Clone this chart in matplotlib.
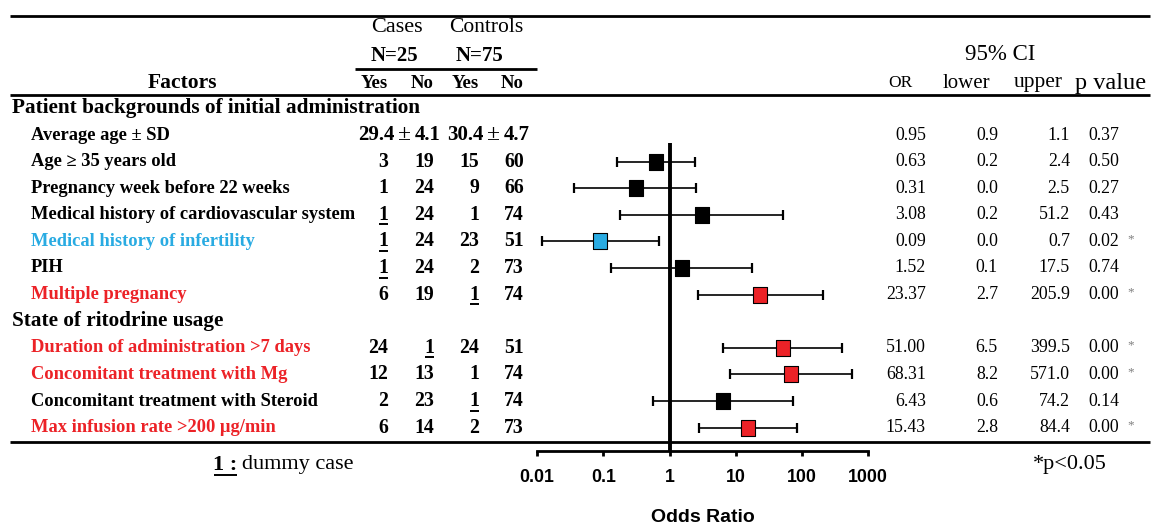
import numpy as np
import matplotlib
matplotlib.use("Agg")
import matplotlib.pyplot as plt

# ---------------- data ----------------
factors = ["Average age \u00b1 SD", "Age \u2265 35 years old", "Pregnancy week before 22 weeks",
           "Medical history of cardiovascular system", "Medical history of infertility", "PIH",
           "Multiple pregnancy", "Duration of administration >7 days",
           "Concomitant treatment with Mg", "Concomitant treatment with Steroid",
           "Max infusion rate >200 \u03bcg/min"]
group_of = [0, 0, 0, 0, 0, 0, 0, 1, 1, 1, 1]
groups = ["Patient backgrounds of initial administration", "State of ritodrine usage"]
label_color = ["black", "black", "black", "black", "blue", "black", "red", "red", "red", "black", "red"]

# average age (mean, SD) for cases and controls
age_cases = ("29.4", "4.1")
age_ctrls = ("30.4", "4.7")
cases_yes = [None, 3, 1, 1, 1, 1, 6, 24, 12, 2, 6]
cases_no = [None, 19, 24, 24, 24, 24, 19, 1, 13, 23, 14]
ctrl_yes = [None, 15, 9, 1, 23, 2, 1, 24, 1, 1, 2]
ctrl_no = [None, 60, 66, 74, 51, 73, 74, 51, 74, 74, 73]
# dummy-case cells (underlined): (row, column index 0..3)
dummy_cells = [(3, 0), (4, 0), (5, 0), (6, 2), (7, 1), (9, 2)]

odds_ratio = [0.95, 0.63, 0.31, 3.08, 0.09, 1.52, 23.37, 51.00, 68.31, 6.43, 15.43]
ci_lower = [0.9, 0.2, 0.0, 0.2, 0.0, 0.1, 2.7, 6.5, 8.2, 0.6, 2.8]
ci_upper = [1.1, 2.4, 2.5, 51.2, 0.7, 17.5, 205.9, 399.5, 571.0, 74.2, 84.4]
p_value = [0.37, 0.50, 0.27, 0.43, 0.02, 0.74, 0.00, 0.00, 0.00, 0.14, 0.00]
# whisker ends as drawn in the plot (unrounded); row 0 not plotted
whisk_lo = [np.nan, 0.16, 0.036, 0.18, 0.012, 0.13, 2.65, 6.4, 8.1, 0.56, 2.8]
whisk_hi = [np.nan, 2.4, 2.5, 51.2, 0.7, 17.5, 205.9, 399.5, 571.0, 74.2, 84.4]
plotted = [False, True, True, True, True, True, True, True, True, True, True]

xticks = [0.01, 0.1, 1, 10, 100, 1000]
xticklabels = ["0.01", "0.1", "1", "10", "100", "1000"]

# ---------------- style ----------------
COL = {"black": "black", "red": "#EC2227", "blue": "#29ABE2"}
SERIF = ["Liberation Serif", "DejaVu Serif"]
SANS = ["Liberation Sans", "DejaVu Sans"]
W, H = 1152, 525

fig = plt.figure(figsize=(W / 100, H / 100), dpi=100)
ax0 = fig.add_axes([0, 0, 1, 1])
ax0.set_xlim(0, W)
ax0.set_ylim(H, 0)
ax0.axis("off")
ax0.patch.set_alpha(0)

# row positions (pixels from top)
y0, dy = 135.0, 26.6
row_y = []
group_y = []
k = 0
prev_g = None
for i, g in enumerate(group_of):
    if g != prev_g:
        if i == 0:
            group_y.append(y0 - dy)
        else:
            group_y.append(y0 + k * dy)
            k += 1
        prev_g = g
    row_y.append(y0 + k * dy)
    k += 1

def t(x, y, s, size, bold=False, ha="left", color="black", family=SERIF, **kw):
    return ax0.text(x, y, s, fontsize=size, fontweight="bold" if bold else "normal",
                    ha=ha, va="center", color=color, family=family, **kw)

# horizontal rules
for yy in (15.5, 95, 441.5):
    ax0.plot([10, 1150], [yy, yy], color="black", lw=2.0, solid_capstyle="butt")
ax0.plot([355, 537], [69, 69], color="black", lw=2.0, solid_capstyle="butt")

# headers
t(397, 27, "Cases", 16, ha="center")
t(486, 27, "Controls", 15.5, ha="center")
t(394, 56, "N=25", 15, bold=True, ha="center")
t(480, 56, "N=75", 15, bold=True, ha="center")
t(182, 83, "Factors", 15.5, bold=True, ha="center")
col_right = [388, 434, 479, 524]
for xr, s in zip(col_right, ["Yes", "No", "Yes", "No"]):
    t(xr, 83, s, 13.5, bold=True, ha="right")
t(1000, 55, "95% CI", 16.5, ha="center")
t(900, 83, "OR", 12.5, ha="center")
t(966, 83, "lower", 15, ha="center")
t(1038, 83, "upper", 15.5, ha="center")
t(1111, 83, "p value", 17.5, ha="center")

# group headings
for gy, gname in zip(group_y, groups):
    t(12, gy, gname, 15.3, bold=True)

# rows
underline_targets = []
for i, name in enumerate(factors):
    y = row_y[i]
    t(31, y, name, 13.3, bold=True, color=COL[label_color[i]])
    if i == 0:
        for (m, sd), xpm in zip((age_cases, age_ctrls), (404.5, 493.5)):
            t(xpm - 10, y, m, 15, bold=True, ha="right")
            t(xpm, y, "\u00b1", 17, ha="center")
            t(xpm + 10, y, sd, 15, bold=True, ha="left")
    else:
        vals = [cases_yes[i], cases_no[i], ctrl_yes[i], ctrl_no[i]]
        for j, (xr, v) in enumerate(zip(col_right, vals)):
            tx = t(xr, y, str(v), 14.2, bold=True, ha="right")
            if (i, j) in dummy_cells:
                underline_targets.append((tx, y))
    t(926, y, f"{odds_ratio[i]:.2f}", 12.8, ha="right")
    t(998, y, f"{ci_lower[i]:.1f}", 12.8, ha="right")
    t(1070, y, f"{ci_upper[i]:.1f}", 12.8, ha="right")
    t(1088, y, f"{p_value[i]:.2f}", 12.8, ha="left")
    if p_value[i] < 0.05:
        t(1127, y - 2, "*", 9.5, color="#7f7f7f")

# footnotes
fn1 = t(213, 465, "1 :", 16, bold=True)
t(242, 465, "dummy case", 16)
t(1033, 465, "*p<0.05", 16)
underline_targets.append((fn1, 465))

fig.canvas.draw()
rend = fig.canvas.get_renderer()
inv = ax0.transData.inverted()
for tx, y in underline_targets:
    bb = tx.get_window_extent(rend)
    (xa, _), (xb, _) = inv.transform([(bb.x0, bb.y0), (bb.x1, bb.y0)])
    size_px = tx.get_fontsize() / 72 * 100
    yl = y + 0.33 * size_px + 3
    ax0.plot([xa + 0.5, xb - 0.5], [yl, yl], color="black", lw=1.4, solid_capstyle="butt")

# ---------------- forest plot ----------------
x_left, x_right = 537.0, 868.3
y_top, y_axis = 143.0, 451.0
ax = fig.add_axes([x_left / W, 1 - y_axis / H, (x_right - x_left) / W, (y_axis - y_top) / H])
ax.patch.set_alpha(0)
ax.set_xscale("log")
ax.set_xlim(0.01, 1000)
ax.set_ylim(y_axis, y_top)
for s in ("top", "left", "right"):
    ax.spines[s].set_visible(False)
ax.spines["bottom"].set_linewidth(2.0)
ax.set_yticks([])
ax.set_xticks(xticks)
ax.set_xticklabels(xticklabels)
ax.minorticks_off()
ax.tick_params(axis="x", direction="out", length=3.8, width=2.0, pad=9)
for lab in ax.get_xticklabels():
    lab.set_family(SANS)
    lab.set_fontweight("bold")
    lab.set_fontsize(12.8)
ax.axvline(1, color="black", lw=2.8, zorder=1)

rect = [(-0.88, -1), (0.88, -1), (0.88, 1), (-0.88, 1), (-0.88, -1)]
for i in range(len(factors)):
    if not plotted[i]:
        continue
    y = row_y[i]
    orv = odds_ratio[i]
    ax.errorbar([orv], [y], xerr=[[orv - whisk_lo[i]], [whisk_hi[i] - orv]], fmt="none",
                ecolor="black", elinewidth=1.2, capsize=3.3, capthick=1.6, zorder=2)
    c = COL[label_color[i]]
    ax.plot([orv], [y], marker=rect, ms=11.6, mfc=c, mec="black",
            mew=0.8, ls="none", zorder=3)

ax0.text((x_left + x_right) / 2, 517, "Odds Ratio", fontsize=14, fontweight="bold",
         family=SANS, ha="center", va="center")

fig.savefig("out.png", dpi=100)
